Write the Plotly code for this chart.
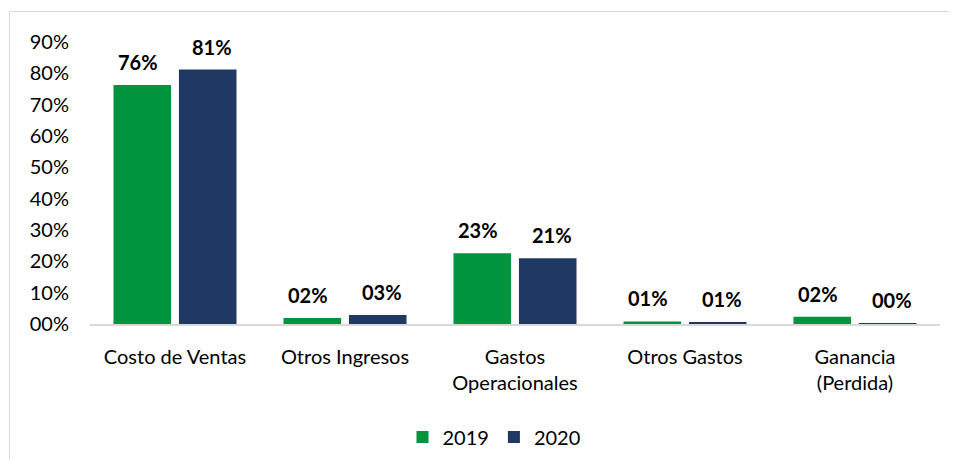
import plotly.graph_objects as go

categories = ["Costo de Ventas", "Otros Ingresos", "Gastos<br>Operacionales", "Otros Gastos", "Ganancia<br>(Perdida)"]
series_names = ["2019", "2020"]
values_2019 = [0.763, 0.019, 0.226, 0.008, 0.023]
values_2020 = [0.812, 0.029, 0.210, 0.006, 0.002]
tick_vals = [0, 0.1, 0.2, 0.3, 0.4, 0.5, 0.6, 0.7, 0.8, 0.9]

colors = ["#00943F", "#203864"]
FONT = "Lato, Calibri, 'Open Sans', sans-serif"

fig = go.Figure()
for name, vals, col in zip(series_names, [values_2019, values_2020], colors):
    fig.add_trace(go.Bar(x=categories, y=vals, name=name, marker=dict(color=col, line=dict(width=0))))

annotations = []
for vals, shift in [(values_2019, -37), (values_2020, 37)]:
    for c, v in zip(categories, vals):
        annotations.append(dict(x=c, y=v, xref="x", yref="y", xshift=shift, yshift=23,
                                text="<b>%02d%%</b>" % int(v * 100 + 0.5), showarrow=False,
                                font=dict(family=FONT, size=20, color="#000000"),
                                xanchor="center", yanchor="middle"))

# page body has an 8px margin: figure coordinates = image coordinates - 8
OFF = 8
W, H = 957 - OFF, 468 - 2 * OFF
l, r, t, b = 90 - OFF, W - (940 - OFF), 42 - OFF, H - (324 - OFF)
pw, ph = W - l - r, H - t - b

def px(xi):
    return (xi - OFF - l) / pw

def py(yi):
    return (H - b - (yi - OFF)) / ph

fig.update_layout(
    width=W, height=H,
    margin=dict(l=l, r=r, t=t, b=b, autoexpand=False),
    paper_bgcolor="white", plot_bgcolor="white",
    barmode="group", bargap=0.23, bargroupgap=0.12,
    font=dict(family=FONT, size=20, color="#000000"),
    showlegend=True,
    legend=dict(orientation="h", x=px(494), y=py(437), xanchor="center", yanchor="middle",
                font=dict(family=FONT, size=20), itemwidth=30, traceorder="normal"),
    annotations=annotations,
    shapes=[dict(type="rect", xref="paper", yref="paper",
                 x0=px(9.5), x1=px(985), y0=py(490), y1=py(11.5),
                 line=dict(color="#D9D9D9", width=1), fillcolor="rgba(0,0,0,0)", layer="below")],
)
fig.update_xaxes(showline=True, linecolor="#D9D9D9", linewidth=2, ticks="",
                 tickfont=dict(family=FONT, size=20), showgrid=False, ticklabelstandoff=14)
fig.update_yaxes(range=[0, 0.9], tickvals=tick_vals, tickformat="03.0%", showgrid=False,
                 zeroline=False, showline=False, ticklabelstandoff=20,
                 tickfont=dict(family=FONT, size=20))

fig.write_html("out.html")
